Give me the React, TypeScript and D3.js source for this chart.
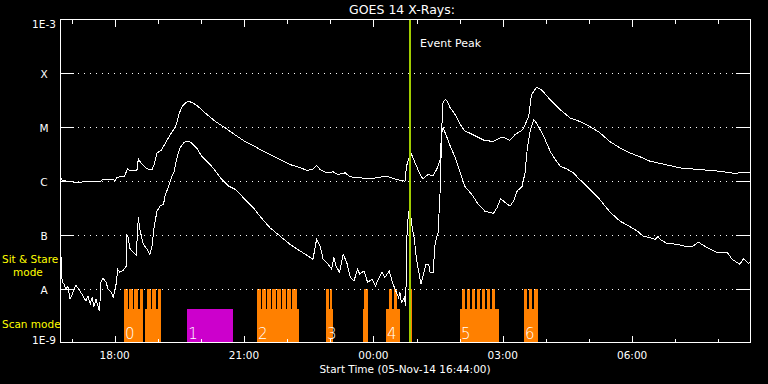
import React from 'react';
import * as d3 from 'd3';

// GOES 14 X-ray flux, 05-Nov-14 16:44 + 16 h
const START = new Date(2014, 10, 5, 16, 44, 0);
const SPAN_MINUTES = 960;

// long channel (upper curve): minutes after start, flux W/m^2
const longMin = [1, 3, 14, 21, 42, 56, 60, 77, 79, 90, 94, 97, 107, 109, 113, 121, 128, 131, 135, 141,
  148, 155, 161, 166, 170, 176, 180, 185, 192, 202, 216, 230, 243, 257, 271, 278, 292, 306, 320, 334,
  343, 351, 357, 362, 371, 380, 387, 397, 403, 417, 431, 449, 456, 468, 480, 482, 485, 488, 491, 494,
  501, 505, 512, 519, 524, 529, 531, 533, 536, 538, 543, 550, 557, 563, 577, 591, 603, 612, 616, 626,
  633, 644, 652, 656, 663, 670, 682, 696, 710, 723, 737, 751, 765, 779, 793, 807, 821, 842, 863, 890,
  918, 939, 953, 960];
const longFlux = [1.16e-6, 1.02e-6, 0.98e-6, 0.94e-6, 0.98e-6, 0.98e-6, 1.07e-6, 1.04e-6, 1.16e-6, 1.24e-6,
  1.70e-6, 1.55e-6, 1.58e-6, 2.58e-6, 2.11e-6, 1.68e-6, 1.63e-6, 2.02e-6, 3.33e-6, 3.72e-6,
  5.46e-6, 7.81e-6, 1.03e-5, 1.83e-5, 2.43e-5, 2.93e-5, 3.0e-5, 2.81e-5, 2.43e-5, 1.83e-5,
  1.28e-5, 9.66e-6, 7.26e-6, 5.46e-6, 4.41e-6, 3.83e-6, 3.10e-6, 2.50e-6, 2.02e-6, 1.78e-6,
  1.58e-6, 1.63e-6, 1.94e-6, 1.63e-6, 1.42e-6, 1.48e-6, 1.32e-6, 1.42e-6, 1.20e-6, 1.15e-6,
  1.10e-6, 1.20e-6, 1.20e-6, 1.07e-6, 0.99e-6, 1.88e-6, 2.50e-6, 3.37e-6, 2.72e-6, 2.17e-6,
  1.32e-6, 1.10e-6, 1.32e-6, 1.26e-6, 1.63e-6, 2.50e-6, 9.0e-6, 2.97e-5, 3.23e-5, 3.16e-5,
  2.27e-5, 1.70e-5, 1.11e-5, 8.61e-6, 6.96e-6, 5.62e-6, 5.46e-6, 6.31e-6, 6.53e-6, 5.70e-6,
  7.26e-6, 9.0e-6, 1.58e-5, 4.0e-5, 5.55e-5, 4.94e-5, 3.23e-5, 2.11e-5, 1.48e-5, 1.28e-5,
  1.03e-5, 7.91e-6, 5.39e-6, 4.12e-6, 3.33e-6, 2.81e-6, 2.33e-6, 2.02e-6, 1.75e-6, 1.63e-6,
  1.52e-6, 1.38e-6, 1.46e-6, 1.44e-6];

// short channel (lower curve)
const shortMin = [1, 3, 6, 8, 11, 14, 17, 22, 28, 32, 36, 39, 42, 45, 47, 50, 55, 57, 60, 64,
  67, 71, 74, 77, 79, 80, 83, 88, 92, 93, 95, 97, 102, 106, 109, 111, 116, 121, 125, 128,
  131, 135, 139, 144, 146, 151, 155, 159, 162, 167, 172, 175, 179, 183, 190, 197, 204, 211, 218, 225,
  235, 244, 253, 262, 271, 278, 292, 306, 320, 334, 345, 352, 357, 362, 366, 373, 378, 381, 384, 389,
  394, 399, 404, 409, 414, 417, 423, 428, 434, 439, 443, 448, 452, 458, 462, 466, 471, 473, 475, 479,
  481, 482, 483, 485, 487, 489, 493, 496, 501, 502, 505, 509, 513, 515, 519, 522, 526, 529, 531, 533,
  538, 543, 550, 557, 563, 573, 582, 591, 603, 608, 613, 620, 626, 631, 636, 643, 647, 650, 654, 659,
  663, 668, 675, 682, 689, 696, 705, 714, 723, 733, 742, 751, 765, 779, 793, 803, 812, 821, 828, 832,
  835, 844, 859, 872, 881, 888, 895, 905, 914, 928, 935, 942, 946, 951, 958, 960];
const shortFlux = [5.2e-8, 1.32e-8, 1.21e-8, 9.8e-9, 1.11e-8, 6.4e-9, 7.9e-9, 1.16e-8, 9.0e-9, 7.3e-9,
  5.9e-9, 7.3e-9, 5.2e-9, 7.0e-9, 4.5e-9, 6.4e-9, 3.8e-9, 1.32e-8, 1.56e-8, 1.32e-8,
  9.8e-9, 8.6e-9, 7.0e-9, 9.8e-9, 1.50e-8, 2.30e-8, 2.02e-8, 2.20e-8, 2.61e-8, 1.02e-7,
  8.99e-8, 5.62e-8, 4.74e-8, 4.17e-8, 2.11e-7, 1.26e-7, 6.67e-8, 5.39e-8, 4.35e-8, 6.12e-8,
  1.44e-7, 2.76e-7, 3.41e-7, 3.67e-7, 5.23e-7, 8.0e-7, 1.15e-6, 1.52e-6, 2.50e-6, 4.12e-6,
  5.1e-6, 5.46e-6, 5.46e-6, 5.1e-6, 4.12e-6, 2.88e-6, 2.33e-6, 1.88e-6, 1.42e-6, 1.07e-6,
  8.0e-7, 6.96e-7, 5.24e-7, 3.94e-7, 2.96e-7, 2.23e-7, 1.36e-7, 9.5e-8, 6.67e-8, 5.01e-8,
  4.05e-8, 3.52e-8, 8.26e-8, 6.21e-8, 3.52e-8, 2.84e-8, 2.30e-8, 3.78e-8, 2.64e-8, 2.0e-8,
  4.35e-8, 3.05e-8, 1.61e-8, 1.39e-8, 2.30e-8, 1.86e-8, 2.14e-8, 1.30e-8, 1.50e-8, 1.13e-8,
  1.50e-8, 2.05e-8, 1.61e-8, 2.14e-8, 1.39e-8, 9.8e-9, 6.9e-9, 8.5e-9, 5.5e-9, 6.9e-9,
  4.8e-9, 3.52e-8, 1.26e-7, 2.58e-7, 3.23e-7, 1.68e-7, 8.26e-8, 3.52e-8, 1.50e-8, 1.21e-8,
  1.73e-8, 2.84e-8, 2.84e-8, 2.0e-8, 2.0e-8, 7.2e-8, 1.10e-7, 6.96e-7, 7.81e-6, 9.8e-6,
  6.67e-6, 4.41e-6, 2.69e-6, 1.42e-6, 8.0e-7, 5.62e-7, 3.67e-7, 2.76e-7, 2.50e-7, 3.19e-7,
  4.68e-7, 3.94e-7, 3.41e-7, 4.22e-7, 6.47e-7, 8.0e-7, 1.42e-6, 3.83e-6, 8.36e-6, 1.38e-5,
  1.20e-5, 9.0e-6, 5.87e-6, 3.56e-6, 2.50e-6, 1.88e-6, 1.68e-6, 1.42e-6, 1.07e-6, 8.0e-7,
  6.04e-7, 4.54e-7, 2.67e-7, 1.80e-7, 1.42e-7, 1.18e-7, 9.3e-8, 8.9e-8, 8.26e-8, 9.4e-8,
  8.26e-8, 6.96e-8, 6.67e-8, 6.04e-8, 6.21e-8, 7.36e-8, 6.4e-8, 5.39e-8, 4.68e-8, 4.80e-8,
  3.52e-8, 3.05e-8, 2.84e-8, 3.62e-8, 2.96e-8, 3.13e-8];

// observing blocks (minutes after start)
const blockStart = [89, 118, 177, 274, 370, 421.6, 453.6, 485.6, 556.5, 645.6];
const blockEnd = [115.5, 140.5, 240.7, 332.5, 380, 428.5, 473, 489.7, 610.8, 665];
const blockKind = ['scan', 'scan', 'other', 'scan', 'scan', 'scan', 'scan', 'scan', 'scan', 'scan'];

// sit & stare pointings
const stareStart = [89.0, 96.0, 103.0, 111.3, 121.0, 128.0, 136.4, 274.1, 281.0, 288.0, 295.0, 301.9, 308.9,
  315.8, 322.8, 370.1, 375.6, 423.0, 457.7, 464.7, 485.6, 559.3, 566.3, 573.2, 580.2, 587.1, 594.1,
  601.0, 645.6, 652.5, 659.5];
const stareEnd = [94.6, 101.6, 108.5, 115.5, 126.6, 133.6, 140.5, 279.7, 286.6, 293.6, 300.5, 307.5, 314.4,
  321.4, 329.7, 374.2, 378.4, 428.5, 461.9, 468.9, 489.7, 563.5, 570.4, 577.4, 584.3, 591.3, 598.3,
  605.2, 649.7, 656.7, 665.0];

const groupLabels = ['0', '1', '2', '3', '4', '5', '6'];
const groupStart = [89, 177, 274, 370, 453.6, 556.5, 645.6];

const levelValues = [1e-9, 1e-8, 1e-7, 1e-6, 1e-5, 1e-4, 1e-3];
const levelLabels = ['1E-9', 'A', 'B', 'C', 'M', 'X', '1E-3'];

const EVENT_MIN = 487;
const STARE_TOP = 1e-8;
const SCAN_TOP = 4.2e-9;

const FONT = '"DejaVu Sans", sans-serif';
const ORANGE = '#ff8000';
const MAGENTA = '#cc00cc';

const at = (m: number) => new Date(START.getTime() + m * 60000);

export default function App() {
  const left = 60, right = 750, top = 19.5, bottom = 342.5;
  const x = d3.scaleTime().domain([START, at(SPAN_MINUTES)]).range([left, right]);
  const y = d3.scaleLog().domain([1e-9, 1e-3]).range([bottom, top]);
  const px = (v: number) => Math.round(v) + 0.5;

  const line = d3.line<[number, number]>()
    .x(d => x(at(d[0])))
    .y(d => y(d[1]));
  const longPath = line(longMin.map((m, i) => [m, longFlux[i]]));
  const shortPath = line(shortMin.map((m, i) => [m, shortFlux[i]]));

  const hours = x.ticks(d3.timeHour.every(1));
  const fmt = d3.timeFormat('%H:%M');
  const evX = x(at(EVENT_MIN));

  return (
    <svg width={768} height={384} style={{ position: 'absolute', left: 0, top: 0, background: '#000' }}>
      <rect width={768} height={384} fill="#000" />
      <defs>
        <clipPath id="plot">
          <rect x={left} y={top} width={right - left} height={bottom - top} />
        </clipPath>
      </defs>

      {/* observing modes */}
      <g shapeRendering="crispEdges">
        {blockStart.map((s, i) => (
          <rect key={'b' + i} x={x(at(s))} y={y(SCAN_TOP)} width={x(at(blockEnd[i])) - x(at(s))}
            height={bottom - y(SCAN_TOP)} fill={blockKind[i] === 'scan' ? ORANGE : MAGENTA} />
        ))}
        {stareStart.map((s, i) => (
          <rect key={'s' + i} x={x(at(s))} y={px(y(STARE_TOP)) - 0.5} width={x(at(stareEnd[i])) - x(at(s))}
            height={bottom - y(STARE_TOP)} fill={ORANGE} />
        ))}
      </g>
      {groupLabels.map((g, i) => (
        <text key={g} x={x(at(groupStart[i])) + 1} y={339} fill="#fff" fontFamily={FONT}
          fontSize={15} fontWeight={200}>{g}</text>
      ))}

      {/* level grid */}
      <g shapeRendering="crispEdges" stroke="#fff">
        {levelValues.slice(1, -1).map(v => (
          <g key={v}>
            <line x1={left} x2={right} y1={px(y(v))} y2={px(y(v))} strokeDasharray="1 5" />
            <line x1={left} x2={left + 14} y1={px(y(v))} y2={px(y(v))} />
            <line x1={right - 14} x2={right} y1={px(y(v))} y2={px(y(v))} />
          </g>
        ))}
      </g>

      {/* flux curves */}
      <g clipPath="url(#plot)" fill="none" stroke="#fff" strokeWidth={1} shapeRendering="crispEdges">
        <path d={longPath || ''} />
        <path d={shortPath || ''} />
      </g>

      {/* event peak */}
      <line x1={evX} x2={evX} y1={top} y2={bottom} stroke="#a0cc00" strokeWidth={2} shapeRendering="crispEdges" />
      <text x={evX + 10} y={47} fill="#fff" fontFamily={FONT} fontSize={11}>Event Peak</text>

      {/* frame and time ticks */}
      <g shapeRendering="crispEdges" stroke="#fff" fill="none">
        <rect x={left + 0.5} y={top} width={right - left} height={bottom - top} />
        {hours.map(h => {
          const major = h.getHours() % 3 === 0;
          const len = major ? 7 : 4;
          const hx = px(x(h));
          return (
            <g key={h.getTime()}>
              <line x1={hx} x2={hx} y1={bottom} y2={bottom - len} />
              <line x1={hx} x2={hx} y1={top} y2={top + len} />
            </g>
          );
        })}
      </g>
      {hours.filter(h => h.getHours() % 3 === 0).map(h => (
        <text key={'l' + h.getTime()} x={x(h)} y={359} fill="#fff" fontFamily={FONT} fontSize={10.5}
          textAnchor="middle">{fmt(h)}</text>
      ))}

      {levelValues.map((v, i) => {
        const ly = i === 0 ? 343.5 : i === levelValues.length - 1 ? 27.5 : px(y(v)) + 4;
        return (
          <text key={levelLabels[i]} x={44} y={ly} fill="#fff" fontFamily={FONT} fontSize={10.5}
            textAnchor="middle">{levelLabels[i]}</text>
        );
      })}

      <text x={402} y={14} fill="#fff" fontFamily={FONT} fontSize={12.5} textAnchor="middle">GOES 14 X-Rays:</text>
      <text x={405} y={373} fill="#fff" fontFamily={FONT} fontSize={10.5} textAnchor="middle">Start Time (05-Nov-14 16:44:00)</text>

      <g fill="#ffff00" fontFamily={FONT} fontSize={10.5}>
        <text x={2} y={262.5}>Sit &amp; Stare</text>
        <text x={13} y={276}>mode</text>
        <text x={2} y={328}>Scan mode</text>
      </g>
    </svg>
  );
}
